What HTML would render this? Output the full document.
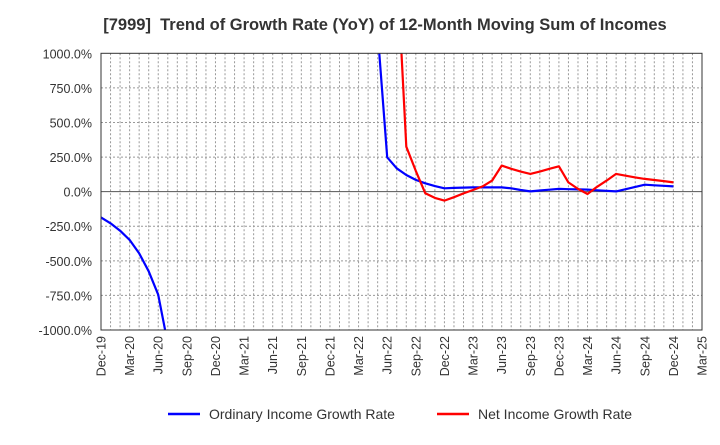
<!DOCTYPE html>
<html><head><meta charset="utf-8"><style>
body{margin:0;background:#fff;}
svg text{font-family:"Liberation Sans",sans-serif;}
</style></head><body>
<svg id="chart" width="720" height="440" xmlns="http://www.w3.org/2000/svg">
<text x="385" y="30" text-anchor="middle" font-size="16.5" font-weight="bold" fill="#333">[7999]&#160; Trend of Growth Rate (YoY) of 12-Month Moving Sum of Incomes</text>
<g id="grid"></g>
<g id="yaxis"></g>
<g id="xaxis"></g>
<defs><clipPath id="pc"><rect x="101" y="53" width="601" height="277"/></clipPath></defs>
<g id="series" clip-path="url(#pc)"></g>
<rect x="101" y="53.3" width="601" height="276.7" fill="none" stroke="#333" stroke-width="1"/>
<g>
<line x1="168" y1="414" x2="200" y2="414" stroke="#0000ff" stroke-width="2.5"/>
<text x="209" y="419" font-size="14" fill="#333">Ordinary Income Growth Rate</text>
<line x1="437" y1="414" x2="469" y2="414" stroke="#ff0000" stroke-width="2.5"/>
<text x="478" y="419" font-size="14" fill="#333">Net Income Growth Rate</text>
</g>
</svg>
<script>
const xLabels=["Dec-19","Mar-20","Jun-20","Sep-20","Dec-20","Mar-21","Jun-21","Sep-21","Dec-21","Mar-22","Jun-22","Sep-22","Dec-22","Mar-23","Jun-23","Sep-23","Dec-23","Mar-24","Jun-24","Sep-24","Dec-24","Mar-25"];
const yTicks=[1000,750,500,250,0,-250,-500,-750,-1000];
const N=null;
const ordinary=[-186,-229,-282,-349,-446,-576,-745,-1100,N,N,N,N,N,N,N,N,N,N,N,N,N,N,N,N,N,N,N,N,N,1150,248,169,120,85,60,40,24,27,29,31,31,31,31,24,12,2,8,14,20,18,16,15,10,6,2,18,34,50,46,42,38];
const netIncome=[N,N,N,N,N,N,N,N,N,N,N,N,N,N,N,N,N,N,N,N,N,N,N,N,N,N,N,N,N,N,N,1670,325,150,-12,-45,-65,-40,-13,12,38,80,188,165,145,128,145,165,183,67,20,-17,35,80,128,115,103,92,84,76,67];
const X0=101,X1=702,Y0=330,Y1=53.3,months=63;
const xs=i=>X0+(X1-X0)*i/months;
const ys=v=>Y0-(v+1000)/2000*(Y0-Y1);
const NS="http://www.w3.org/2000/svg";
function mk(t,a,p){const e=document.createElementNS(NS,t);for(const k in a)e.setAttribute(k,a[k]);p.appendChild(e);return e;}
const grid=document.getElementById('grid');
for(let i=1;i<months;i++){const l=mk('line',{x1:xs(i),x2:xs(i),y1:Y1,y2:Y0,stroke:'#999','stroke-dasharray':'2,2','stroke-width':1},grid);

}
const ya=document.getElementById('yaxis');
yTicks.forEach(v=>{const y=ys(v);
if(v!==1000&&v!==-1000){const l=mk('line',{x1:X0,x2:X1,y1:y,y2:y,stroke:v===0?'#555':'#999','stroke-dasharray':v===0?'none':'2,2','stroke-width':1},grid);

}
const t=mk('text',{x:92,y:y+5,'text-anchor':'end','font-size':12.5,fill:'#333'},ya);t.textContent=v.toFixed(1)+'%';

});
const xa=document.getElementById('xaxis');
xLabels.forEach((s,i)=>{const x=xs(i*3);
const t=mk('text',{x:0,y:0,'text-anchor':'end','font-size':12.5,fill:'#333',transform:`translate(${x+4.5},336) rotate(-90)`},xa);t.textContent=s;

});
const sg=document.getElementById('series');
function draw(arr,col,name){let d='',pen=false;arr.forEach((v,i)=>{if(v===null){pen=false;return;}d+=(pen?'L':'M')+xs(i).toFixed(1)+','+ys(v).toFixed(1);pen=true;});
const p=mk('path',{d:d,fill:'none',stroke:col,'stroke-width':2.2,'stroke-linejoin':'round'},sg);

}
draw(ordinary,'#0000ff','ordinary-income-line');
draw(netIncome,'#ff0000','net-income-line');
</script>
</body></html>
